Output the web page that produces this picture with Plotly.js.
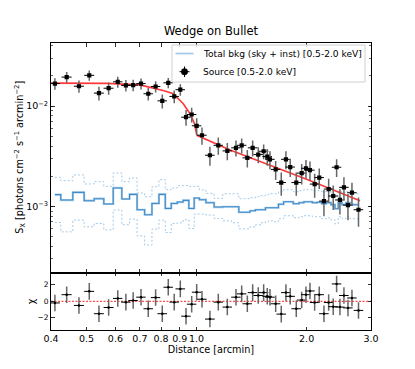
<!DOCTYPE html>
<html>
<head>
<meta charset="utf-8">
<script src="https://cdn.plot.ly/plotly-3.0.1.min.js"></script>
<style>html,body{margin:0;padding:0;background:#fff;}#chart{width:415px;height:369px;}</style>
</head>
<body>
<div id="chart"></div>
<script>
// Radial bins (arcmin)
const distance = [0.410, 0.4415, 0.477, 0.509, 0.541, 0.575, 0.609, 0.641, 0.671, 0.705, 0.738, 0.773, 0.806, 0.837, 0.869, 0.903, 0.936, 0.970, 1.001, 1.035, 1.088, 1.147,
  1.214, 1.282, 1.329, 1.377, 1.424, 1.475, 1.526, 1.561, 1.588, 1.646, 1.705, 1.756, 1.804, 1.874, 1.939, 1.992, 2.043, 2.104, 2.166, 2.231, 2.298, 2.365, 2.416, 2.467, 2.530, 2.595, 2.661, 2.773];
const distanceErr = [0.013, 0.014, 0.015, 0.016, 0.017, 0.018, 0.018, 0.019, 0.020, 0.021, 0.022, 0.023, 0.024, 0.025, 0.026, 0.027, 0.028, 0.029, 0.030, 0.031, 0.033, 0.034,
  0.036, 0.038, 0.040, 0.041, 0.043, 0.044, 0.046, 0.047, 0.048, 0.049, 0.051, 0.053, 0.054, 0.056, 0.058, 0.060, 0.061, 0.063, 0.065, 0.067, 0.069, 0.071, 0.072, 0.074, 0.076, 0.078, 0.080, 0.083];
// Source surface brightness [0.5-2.0 keV]
const sourceSx = [0.0168, 0.0195, 0.0158, 0.0203, 0.0135, 0.0151, 0.0175, 0.0161, 0.0162, 0.0168, 0.0133, 0.0157, 0.0113, 0.0171, 0.0125, 0.0146, 0.00776, 0.00826, 0.00637, 0.00513, 0.00324, 0.00407,
  0.00358, 0.00384, 0.00407, 0.00305, 0.00384, 0.00329, 0.00355, 0.00314, 0.00295, 0.00234, 0.00173, 0.00295, 0.00247, 0.00173, 0.00215, 0.00240, 0.00230, 0.00167, 0.00194, 0.00113, 0.00149, 0.00127, 0.00246, 0.00116, 0.00155, 0.00103, 0.00137, 0.000927];
const sourceErr = [0.0022, 0.0024, 0.0022, 0.0024, 0.0021, 0.0021, 0.0022, 0.0021, 0.0021, 0.0021, 0.0019, 0.0020, 0.0018, 0.0020, 0.0018, 0.0019, 0.0014, 0.0014, 0.0012, 0.0010, 0.0007, 0.0008,
  0.0007, 0.0007, 0.0007, 0.0006, 0.0007, 0.0006, 0.0006, 0.0006, 0.0006, 0.0005, 0.00045, 0.0006, 0.0005, 0.00045, 0.0005, 0.0005, 0.0005, 0.00045, 0.00045, 0.00033, 0.0004, 0.00035, 0.0005, 0.00033, 0.0004, 0.0003, 0.00035, 0.0003];
// Total background (sky + instrumental) and its bounds
const bkgTotal = [0.00131, 0.001158, 0.00138, 0.00114, 0.001194, 0.001057, 0.001528, 0.001186, 0.001318, 0.000927, 0.000826, 0.001071, 0.001318, 0.000955, 0.001071, 0.001106, 0.001148, 0.000955, 0.001213, 0.001167, 0.001089, 0.000986,
  0.000993, 0.000993, 0.000875, 0.000875, 0.000906, 0.000927, 0.000927, 0.00097, 0.00097, 0.00097, 0.001052, 0.001114, 0.001114, 0.001064, 0.001089, 0.001114, 0.001114, 0.001089, 0.001101, 0.001064, 0.001089, 0.00104, 0.000948, 0.001089, 0.00104, 0.001089, 0.00104, 0.00104];
const bkgUpper = [0.00195, 0.001807, 0.002061, 0.001675, 0.001766, 0.001585, 0.002158, 0.001766, 0.001923, 0.001361, 0.00125, 0.001574, 0.001849, 0.001468, 0.001528, 0.001611, 0.001611, 0.001585, 0.001585, 0.001458, 0.001349, 0.001202,
  0.001339, 0.001339, 0.001194, 0.001194, 0.001222, 0.00125, 0.001279, 0.001309, 0.001339, 0.001339, 0.001402, 0.001468, 0.001468, 0.001402, 0.001435, 0.001468, 0.001468, 0.001435, 0.001435, 0.001402, 0.001435, 0.001339, 0.00125, 0.001402, 0.00137, 0.001402, 0.001339, 0.001339];
const bkgLower = [0.000691, 0.000558, 0.000731, 0.000626, 0.000676, 0.000584, 0.000921, 0.000656, 0.000748, 0.000509, 0.000412, 0.000594, 0.000731, 0.000549, 0.000676, 0.000687, 0.000736, 0.000602, 0.000839, 0.000839, 0.00082, 0.000758,
  0.000719, 0.000687, 0.000598, 0.000598, 0.000626, 0.000656, 0.000687, 0.000703, 0.000719, 0.000703, 0.000754, 0.000807, 0.000807, 0.000771, 0.000789, 0.000807, 0.000807, 0.000789, 0.000789, 0.000754, 0.000771, 0.000736, 0.000671, 0.000789, 0.000754, 0.000789, 0.000754, 0.000754];
// Best-fit model
const modelDist = [0.4, 0.568, 0.70, 0.778, 0.82, 0.864, 0.92, 0.96, 0.98, 0.987, 1.001, 1.005, 1.235, 1.5, 2.0, 2.8];
const modelSx = [0.01698, 0.01687, 0.0163, 0.01503, 0.01419, 0.0133, 0.01057, 0.0084, 0.0072, 0.00671, 0.00521, 0.00509, 0.00366, 0.00279, 0.00187, 0.00114];
// Residuals chi
const chi = [-0.2, 0.8, -0.5, 1.2, -1.5, -0.75, 0.35, -0.1, 0.1, 0.5, -0.9, 0.45, -1.5, 1.7, -0.1, 1.5, -1.8, -0.35, 1.1, 0.25, -2.15, -0.1,
  -0.7, 0.5, 0.9, -0.3, 1.05, 0.7, 1.05, 0.6, 0.5, -0.3, -1.55, 1.05, 0.6, -0.9, 0.15, 0.8, 1.25, -0.15, 0.8, -1.5, -0.15, -0.65, 2.1, -0.7, 0.7, -0.8, 0.4, -1.1];
const chiErr = distance.map(() => 1);
const xTickVals = [0.4, 0.5, 0.6, 0.7, 0.8, 0.9, 1.0, 2.0, 3.0];
const xTickText = ['0.4', '0.5', '0.6', '0.7', '0.8', '0.9', '1.0', '2.0', '3.0'];
const yTickVals = [0.001, 0.01];
const yTickText = ['10<sup>\u22123</sup>', '10<sup>\u22122</sup>'];
const chiTickVals = [-2, 0, 2];
const chiTickText = ['\u22122', '0', '2'];
const legendLabels = ['Total bkg (sky + inst) [0.5-2.0 keV]', 'Source [0.5-2.0 keV]'];

const FONT = 'DejaVu Sans, sans-serif';
const xr = [Math.log10(0.4), Math.log10(3.0)];
// plot-area pixel helpers (for legend box placement only)
const PL = 51, PW = 320, PT = 43, PH = 287;
const px = v => (v - PL) / PW;
const py = v => 1 - (v - PT) / PH;

const traces = [
  {x: distance, y: bkgUpper, mode: 'lines', line: {shape: 'hvh', color: '#a3c8e6', width: 1, dash: '2px,2px'}, xaxis: 'x2', yaxis: 'y'},
  {x: distance, y: bkgLower, mode: 'lines', line: {shape: 'hvh', color: '#a3c8e6', width: 1, dash: '2px,2px'}, xaxis: 'x2', yaxis: 'y'},
  {x: distance, y: bkgTotal, mode: 'lines', line: {shape: 'hvh', color: '#a9cde9', width: 2.2}, name: legendLabels[0], xaxis: 'x2', yaxis: 'y'},
  {x: distance, y: bkgTotal, mode: 'lines', line: {shape: 'hvh', color: '#3f8bc9', width: 1.1}, xaxis: 'x2', yaxis: 'y'},
  {x: modelDist, y: modelSx, mode: 'lines', line: {color: 'rgba(255,20,20,0.85)', width: 1.6}, xaxis: 'x2', yaxis: 'y'},
  {x: distance, y: sourceSx, mode: 'markers', name: legendLabels[1],
   marker: {symbol: 'square', size: 4.2, color: '#000'},
   error_y: {type: 'data', array: sourceErr, color: '#666', thickness: 1.5, width: 0},
   error_x: {type: 'data', array: distanceErr, color: '#000', thickness: 1, width: 0},
   xaxis: 'x2', yaxis: 'y'},
  {x: [0.4, 3.0], y: [0, 0], mode: 'lines', line: {color: '#ff2020', width: 1, dash: '2px,1.5px'}, xaxis: 'x', yaxis: 'y2'},
  {x: distance, y: chi, mode: 'markers',
   marker: {symbol: 'circle', size: 2.5, color: '#000'},
   error_y: {type: 'data', array: chiErr, color: '#666', thickness: 1.5, width: 0},
   error_x: {type: 'data', array: distanceErr, color: '#000', thickness: 1, width: 0},
   xaxis: 'x', yaxis: 'y2'}
];
const axCommon = {showline: true, linecolor: '#000', linewidth: 1, mirror: 'ticks', ticks: 'inside',
  ticklen: 3.5, tickwidth: 0.8, tickcolor: '#000', showgrid: false, zeroline: false, tickangle: 0,
  tickfont: {family: FONT, size: 9.5, color: '#000'}};
const layout = {
  width: 415, height: 369,
  margin: {l: PL, r: 44, t: PT, b: 39},
  paper_bgcolor: '#fff', plot_bgcolor: '#fff',
  font: {family: FONT, color: '#000'},
  title: {text: 'Wedge on Bullet', font: {family: FONT, size: 11.5, color: '#000'},
    x: 0.5, xref: 'paper', xanchor: 'center', y: 1 - 31 / 369, yref: 'container', yanchor: 'middle'},
  showlegend: false,
  xaxis: Object.assign({}, axCommon, {type: 'log', range: xr, domain: [0, 1], anchor: 'y2',
    tickmode: 'array', tickvals: xTickVals, ticktext: xTickText,
    title: {text: 'Distance [arcmin]', font: {family: FONT, size: 9.7, color: '#000'}, standoff: 2}}),
  xaxis2: Object.assign({}, axCommon, {type: 'log', range: xr, domain: [0, 1], anchor: 'y',
    tickmode: 'array', tickvals: xTickVals, showticklabels: false}),
  yaxis: Object.assign({}, axCommon, {type: 'log', range: [-3.66, -1.37], domain: [0.2, 1], anchor: 'x2',
    tickmode: 'array', tickvals: yTickVals, ticktext: yTickText,
    minor: {ticks: 'inside', ticklen: 2, tickwidth: 0.6, tickcolor: '#000', dtick: 'D1', showgrid: false}}),
  yaxis2: Object.assign({}, axCommon, {range: [-3.47, 3.47], domain: [0, 0.2], anchor: 'x',
    tickmode: 'array', tickvals: chiTickVals, ticktext: chiTickText, tickfont: {family: FONT, size: 7.5, color: '#000'}}),
  shapes: [
    // legend box
    {type: 'rect', xref: 'paper', yref: 'paper', x0: px(172), x1: px(365), y0: py(82), y1: py(45),
     line: {color: '#d0d0d0', width: 1}, fillcolor: 'rgba(255,255,255,0.85)', layer: 'above'},
    {type: 'line', xref: 'paper', yref: 'paper', x0: px(175.5), x1: px(193.5), y0: py(53.5), y1: py(53.5),
     line: {color: '#9fc6e6', width: 1.6}, layer: 'above'},
    {type: 'line', xref: 'paper', yref: 'paper', x0: px(179.5), x1: px(189.5), y0: py(71.7), y1: py(71.7),
     line: {color: '#000', width: 1}, layer: 'above'},
    {type: 'line', xref: 'paper', yref: 'paper', x0: px(184.5), x1: px(184.5), y0: py(66.5), y1: py(77),
     line: {color: '#000', width: 1}, layer: 'above'},
    {type: 'circle', xref: 'paper', yref: 'paper', x0: px(181.3), x1: px(187.7), y0: py(75), y1: py(68.5),
     line: {color: '#000', width: 0.5}, fillcolor: '#000', layer: 'above'}
  ],
  annotations: [
    {text: 'S<sub>X</sub> [photons cm<sup>\u22122</sup> s<sup>\u22121</sup> arcmin<sup>\u22122</sup>]',
     xref: 'paper', yref: 'paper', x: px(20), y: 0.6, textangle: -90, showarrow: false,
     xanchor: 'center', yanchor: 'middle', font: {family: FONT, size: 9.7, color: '#000'}},
    {text: '\u03c7', xref: 'paper', yref: 'paper', x: px(31), y: 0.1, textangle: -90, showarrow: false,
     xanchor: 'center', yanchor: 'middle', font: {family: FONT, size: 9.7, color: '#000'}},
    {text: legendLabels[0], xref: 'paper', yref: 'paper', x: px(201), y: py(53.5), showarrow: false,
     xanchor: 'left', yanchor: 'middle', font: {family: FONT, size: 9.1, color: '#000'}},
    {text: legendLabels[1], xref: 'paper', yref: 'paper', x: px(201), y: py(71.7), showarrow: false,
     xanchor: 'left', yanchor: 'middle', font: {family: FONT, size: 9.1, color: '#000'}}
  ]
};
Plotly.newPlot('chart', traces, layout, {displayModeBar: false, staticPlot: true});
</script>
</body>
</html>
